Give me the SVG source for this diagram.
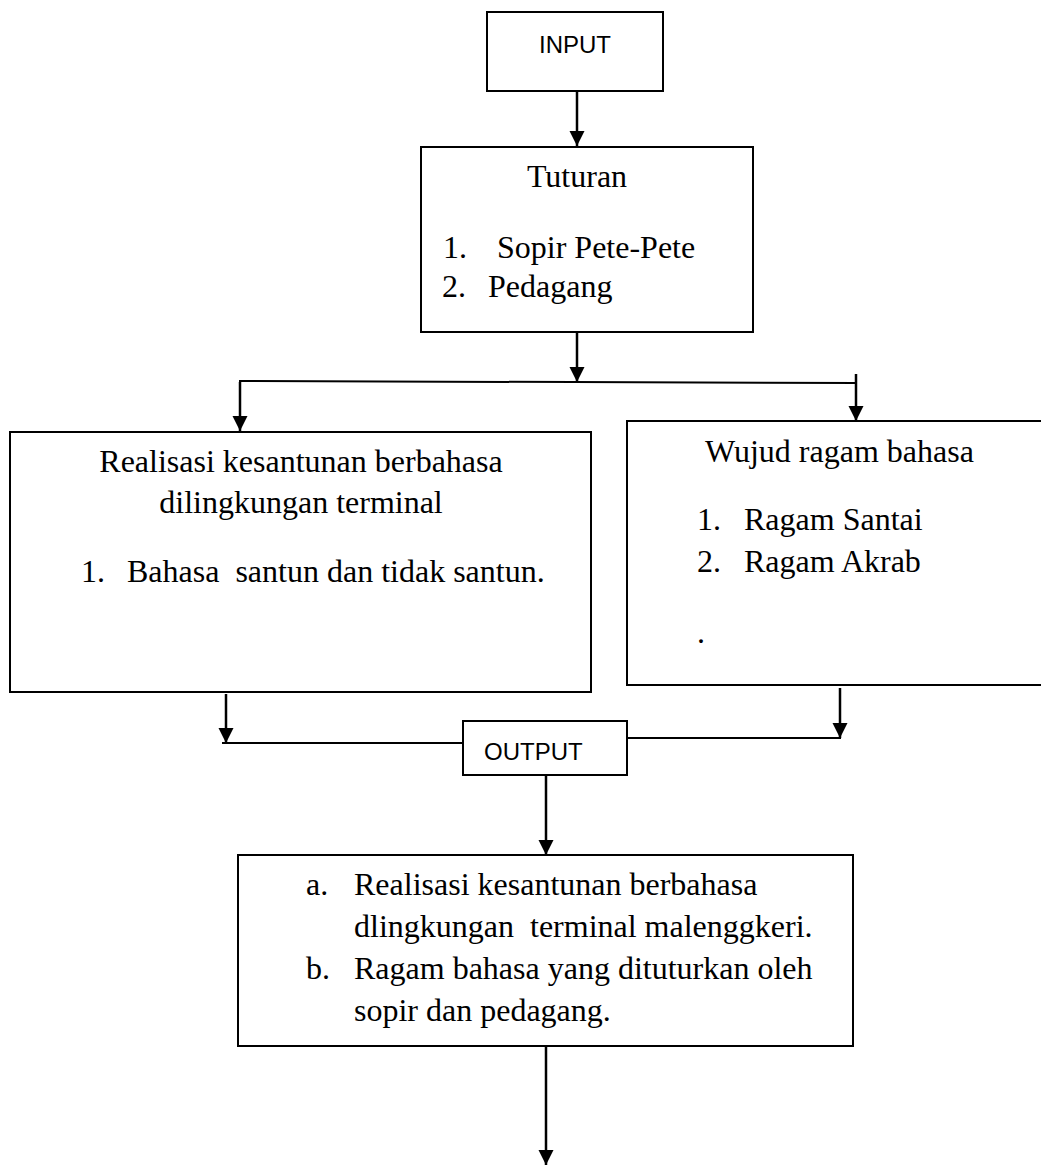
<svg xmlns="http://www.w3.org/2000/svg" width="1041" height="1165" viewBox="0 0 1041 1165">
<style>
.box{fill:#fff;stroke:#000;stroke-width:2}
.ln{fill:none;stroke:#000;stroke-width:2}
.arr{fill:none;stroke:#000;stroke-width:2.5;marker-end:url(#ah)}
.sans{font-family:"Liberation Sans",Arial,sans-serif;font-size:24px;fill:#000}
.serif{font-family:"Liberation Serif","Times New Roman",serif;font-size:32px;fill:#000}
</style>
<defs>
<marker id="ah" markerUnits="userSpaceOnUse" markerWidth="16" markerHeight="16" refX="15" refY="7.5" orient="auto">
<path d="M0,0 L15,7.5 L0,15 Z" fill="#000"/>
</marker>
</defs>
<rect width="1041" height="1165" fill="#fff"/>
<g id="connectors">
<line class="arr" x1="577" y1="91" x2="577" y2="146"/>
<line class="arr" x1="577" y1="332" x2="577" y2="382"/>
<line class="ln" x1="239" y1="381" x2="857" y2="383"/>
<line class="arr" x1="240" y1="382" x2="240" y2="431"/>
<line class="arr" x1="856" y1="374" x2="856" y2="421"/>
<line class="arr" x1="226" y1="694" x2="226" y2="743"/>
<line class="ln" x1="222" y1="743" x2="463" y2="743"/>
<line class="arr" x1="840" y1="688" x2="840" y2="738"/>
<line class="ln" x1="627" y1="738" x2="841" y2="738"/>
<line class="arr" x1="546" y1="775" x2="546" y2="855"/>
<line class="arr" x1="546" y1="1046" x2="546" y2="1165"/>
</g>
<g id="input">
<rect class="box" x="487" y="12" width="176" height="79"/>
<text class="sans" x="575" y="53" text-anchor="middle">INPUT</text>
</g>
<g id="tuturan">
<rect class="box" x="421" y="147" width="332" height="185"/>
<text class="serif" x="577" y="187" text-anchor="middle">Tuturan</text>
<text class="serif" x="443" y="258">1.</text>
<text class="serif" x="497" y="258">Sopir Pete-Pete</text>
<text class="serif" x="442" y="297">2.</text>
<text class="serif" x="488" y="297">Pedagang</text>
</g>
<g id="realisasi">
<rect class="box" x="10" y="432" width="581" height="260"/>
<text class="serif" x="301" y="472" text-anchor="middle">Realisasi kesantunan berbahasa</text>
<text class="serif" x="301" y="513" text-anchor="middle">dilingkungan terminal</text>
<text class="serif" x="81" y="582">1.</text>
<text class="serif" x="127" y="582" xml:space="preserve">Bahasa  santun dan tidak santun.</text>
</g>
<g id="wujud">
<rect class="box" x="627" y="421" width="420" height="264"/>
<text class="serif" x="705" y="462">Wujud ragam bahasa</text>
<text class="serif" x="697" y="530">1.</text>
<text class="serif" x="744" y="530">Ragam Santai</text>
<text class="serif" x="697" y="572">2.</text>
<text class="serif" x="744" y="572">Ragam Akrab</text>
<text class="serif" x="697" y="643">.</text>
</g>
<g id="output">
<rect class="box" x="463" y="721" width="164" height="54"/>
<text class="sans" x="484" y="760">OUTPUT</text>
</g>
<g id="hasil">
<rect class="box" x="238" y="855" width="615" height="191"/>
<text class="serif" x="306" y="895">a.</text>
<text class="serif" x="354" y="895">Realisasi kesantunan berbahasa</text>
<text class="serif" x="354" y="937" xml:space="preserve">dlingkungan  terminal malenggkeri.</text>
<text class="serif" x="306" y="979">b.</text>
<text class="serif" x="354" y="979">Ragam bahasa yang dituturkan oleh</text>
<text class="serif" x="354" y="1021">sopir dan pedagang.</text>
</g>
</svg>
